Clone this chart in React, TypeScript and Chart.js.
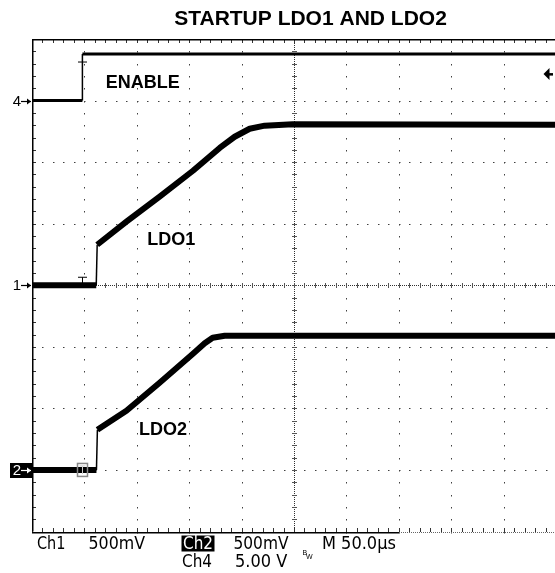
import React, { useEffect, useRef } from "react";
import { Chart, registerables } from "chart.js";

Chart.register(...registerables);

// ---------- scope settings ----------
const TITLE = "STARTUP LDO1 AND LDO2";
const X_DIVS = 10;
const Y_DIVS = 8;
const TIME_PER_DIV = 50; // µs
const TRIGGER_TIME = 48.1; // µs from left edge

// channel ground positions (divisions from bottom) and volts per division
const CH4_GROUND = 7;
const CH4_VDIV = 5;
const CH1_GROUND = 4;
const CH1_VDIV = 0.5;
const CH2_GROUND = 1;
const CH2_VDIV = 0.5;
const CH4_TRIGGER_LEVEL = 2.15; // V

// ---------- traces (time in µs, values in volts) ----------
const enableTime = [0, 48.1, 48.1, 500];
const enableVolts = [0, 0, 3.78, 3.78];

const ldo1Time = [0, 61.3, 62.2, 90.1, 121.8, 153.6, 179.1, 193.4, 207.7, 222.0, 248.8, 500];
const ldo1Volts = [0, 0, 0.329, 0.516, 0.719, 0.93, 1.115, 1.206, 1.271, 1.296, 1.308, 1.304];

const ldo2Time = [0, 61.5, 62.4, 90.1, 121.8, 153.6, 164.8, 172.4, 183.9, 500];
const ldo2Volts = [0, 0, 0.327, 0.481, 0.708, 0.944, 1.029, 1.074, 1.09, 1.09];

// ---------- annotations ----------
const traceLabels = ["ENABLE", "LDO1", "LDO2"];
const traceLabelTime = [105.6, 132.8, 125];
const traceLabelDiv = [7.29, 4.73, 1.652];

const readoutRow1 = ["Ch1", "500mV", "Ch2", "500mV", "M 50.0\u00b5s"];
const readoutRow2 = ["Ch4", "5.00 V"];

const toDiv = (v: number, ground: number, vdiv: number) => ground + v / vdiv;

const FONT = '"Liberation Sans", Arial, Helvetica, sans-serif';
const NARROW = '"Liberation Sans Narrow", "DejaVu Sans Condensed", "Liberation Sans", sans-serif';

const graticule = {
  id: "graticule",
  beforeDatasetsDraw(chart: any) {
    const { ctx, chartArea: a } = chart;
    const dw = (a.right - a.left) / X_DIVS;
    const dh = (a.bottom - a.top) / Y_DIVS;
    ctx.save();
    ctx.fillStyle = "#404040";
    // regular dotted grid lines
    for (let i = 1; i < X_DIVS; i++) {
      if (i === X_DIVS / 2) continue;
      const x = Math.round(a.left + i * dw);
      for (let k = 0; k <= Y_DIVS * 5; k++) {
        ctx.fillRect(x, Math.round(a.top + (k * dh) / 5), 1, 1.5);
      }
    }
    for (let j = 1; j < Y_DIVS; j++) {
      if (j === Y_DIVS / 2) continue;
      const y = Math.round(a.top + j * dh);
      for (let k = 0; k <= X_DIVS * 5; k++) {
        ctx.fillRect(Math.round(a.left + (k * dw) / 5), y, 1.5, 1);
      }
    }
    // centre cross
    const cx = Math.round(a.left + (X_DIVS / 2) * dw);
    const cy = Math.round(a.top + (Y_DIVS / 2) * dh);
    ctx.fillStyle = "#303030";
    for (let y = a.top; y < a.bottom; y += 2) ctx.fillRect(cx, Math.round(y), 1, 1);
    for (let x = a.left; x < a.right; x += 2) ctx.fillRect(Math.round(x), cy, 1, 1);
    ctx.fillStyle = "#555";
    for (let k = 0; k <= Y_DIVS * 5; k++) ctx.fillRect(cx - 2, Math.round(a.top + (k * dh) / 5), 5, 1);
    for (let k = 0; k <= X_DIVS * 5; k++) ctx.fillRect(Math.round(a.left + (k * dw) / 5), cy - 2, 1, 5);
    // border ticks
    ctx.fillStyle = "#333";
    for (let k = 0; k <= X_DIVS * 5; k++) {
      const x = Math.round(a.left + (k * dw) / 5);
      ctx.fillRect(x, Math.round(a.top), 1, 4);
      ctx.fillRect(x, Math.round(a.bottom) - 4, 1, 4);
    }
    for (let k = 0; k <= Y_DIVS * 5; k++) {
      const y = Math.round(a.top + (k * dh) / 5);
      ctx.fillRect(Math.round(a.left), y, 4, 1);
    }
    // frame
    ctx.fillStyle = "#000";
    ctx.fillRect(Math.round(a.left), Math.round(a.top), 1.5, a.bottom - a.top);
    ctx.fillRect(Math.round(a.left), Math.round(a.top), a.right - a.left, 1.5);
    const solidEnd = Math.round(a.left + 7 * dw);
    ctx.fillRect(Math.round(a.left), Math.round(a.bottom), solidEnd - Math.round(a.left), 1.5);
    ctx.fillStyle = "#666";
    for (let x = solidEnd; x < a.right; x += 2) ctx.fillRect(x, Math.round(a.bottom), 1, 1);
    ctx.restore();
  },
  afterDraw(chart: any) {
    const { ctx, chartArea: a } = chart;
    const xs = chart.scales.x;
    const ys = chart.scales.y;
    ctx.save();
    // title
    ctx.fillStyle = "#000";
    ctx.textAlign = "center";
    ctx.textBaseline = "middle";
    ctx.font = `bold 21px ${FONT}`;
    ctx.fillText(TITLE, 310.5, 19);
    // trace labels
    ctx.font = `bold 18px ${FONT}`;
    traceLabels.forEach((t, i) => {
      ctx.fillText(t, xs.getPixelForValue(traceLabelTime[i]), ys.getPixelForValue(traceLabelDiv[i]));
    });

    // ground markers on the left
    const marker = (div: number, label: string, inverted: boolean) => {
      const y = Math.round(ys.getPixelForValue(div)) + 0.5;
      const x1 = a.left - 1;
      const col = inverted ? "#fff" : "#000";
      if (inverted) {
        ctx.fillStyle = "#000";
        ctx.fillRect(10, y - 7.5, a.left - 10, 15);
      }
      ctx.fillStyle = col;
      ctx.strokeStyle = col;
      ctx.font = `15px ${FONT}`;
      ctx.textAlign = "right";
      ctx.textBaseline = "middle";
      ctx.fillText(label, x1 - 10, y + 0.5);
      ctx.lineWidth = 1.2;
      ctx.beginPath();
      ctx.moveTo(x1 - 10, y);
      ctx.lineTo(x1, y);
      ctx.stroke();
      ctx.beginPath();
      ctx.moveTo(x1, y);
      ctx.lineTo(x1 - 4, y - 3);
      ctx.lineTo(x1 - 4, y + 3);
      ctx.closePath();
      ctx.fill();
    };
    marker(CH4_GROUND, "4", false);
    marker(CH1_GROUND, "1", false);
    marker(CH2_GROUND, "2", true);

    // trigger level arrow (right)
    const ty = ys.getPixelForValue(toDiv(CH4_TRIGGER_LEVEL, CH4_GROUND, CH4_VDIV));
    ctx.fillStyle = "#000";
    ctx.beginPath();
    ctx.moveTo(543.5, ty);
    ctx.lineTo(549.5, ty - 6);
    ctx.lineTo(549.5, ty + 6);
    ctx.closePath();
    ctx.fill();
    ctx.fillRect(549, ty - 1, 4, 2.5);

    // trigger position "T" markers
    const tx = Math.round(xs.getPixelForValue(TRIGGER_TIME)) + 0.5;
    ctx.strokeStyle = "#000";
    ctx.lineWidth = 1;
    const tee = (top: number, bottom: number) => {
      ctx.beginPath();
      ctx.moveTo(tx - 4.5, top);
      ctx.lineTo(tx + 4.5, top);
      ctx.moveTo(tx, top);
      ctx.lineTo(tx, bottom);
      ctx.stroke();
    };
    const enHigh = ys.getPixelForValue(toDiv(enableVolts[3], CH4_GROUND, CH4_VDIV));
    tee(enHigh + 8, enHigh + 21);
    const g1 = ys.getPixelForValue(CH1_GROUND);
    tee(g1 - 8, g1);
    const g2 = ys.getPixelForValue(CH2_GROUND);
    ctx.strokeStyle = "#888";
    ctx.lineWidth = 1.5;
    ctx.strokeRect(tx - 5, g2 - 6.5, 10, 13);
    ctx.strokeStyle = "#ccc";
    ctx.lineWidth = 1;
    ctx.beginPath();
    ctx.moveTo(tx - 3, g2 - 4);
    ctx.lineTo(tx + 3, g2 - 4);
    ctx.moveTo(tx, g2 - 4);
    ctx.lineTo(tx, g2 + 4);
    ctx.stroke();

    // readout at the bottom
    ctx.textAlign = "left";
    ctx.textBaseline = "middle";
    ctx.font = `18px ${NARROW}`;
    const r1x = [37, 88.5, 183, 233.5, 322];
    const r1w = [28.5, 56.5, 30, 55, 76];
    ctx.fillStyle = "#000";
    ctx.fillRect(181.5, 535.5, 33, 16);
    readoutRow1.forEach((t, i) => {
      ctx.fillStyle = i === 2 ? "#fff" : "#000";
      ctx.fillText(t, r1x[i], 544, r1w[i]);
    });
    const r2x = [182, 235];
    const r2w = [30, 55];
    ctx.fillStyle = "#000";
    readoutRow2.forEach((t, i) => ctx.fillText(t, r2x[i], 562, r2w[i]));
    ctx.font = `7px ${FONT}`;
    ctx.fillText("B", 302.5, 553);
    ctx.fillText("W", 306, 557.5);
    ctx.restore();
  },
};

export default function App() {
  const ref = useRef<HTMLCanvasElement | null>(null);
  useEffect(() => {
    if (!ref.current) return;
    const thinOnJump = (w: number) => (c: any) =>
      Math.abs(c.p1.parsed.x - c.p0.parsed.x) < 1.5 ? 1.5 : w;
    const chart = new Chart(ref.current, {
      type: "line",
      data: {
        datasets: [
          {
            label: "ENABLE",
            data: enableTime.map((t, i) => ({ x: t, y: toDiv(enableVolts[i], CH4_GROUND, CH4_VDIV) })),
            borderColor: "#000",
            borderWidth: 3,
            pointRadius: 0,
            tension: 0,
            segment: { borderWidth: thinOnJump(3) },
          },
          {
            label: "LDO1",
            data: ldo1Time.map((t, i) => ({ x: t, y: toDiv(ldo1Volts[i], CH1_GROUND, CH1_VDIV) })),
            borderColor: "#000",
            borderWidth: 6,
            pointRadius: 0,
            tension: 0,
            borderJoinStyle: "round",
            segment: { borderWidth: thinOnJump(6) },
          },
          {
            label: "LDO2",
            data: ldo2Time.map((t, i) => ({ x: t, y: toDiv(ldo2Volts[i], CH2_GROUND, CH2_VDIV) })),
            borderColor: "#000",
            borderWidth: 6,
            pointRadius: 0,
            tension: 0,
            borderJoinStyle: "round",
            segment: { borderWidth: thinOnJump(6) },
          },
        ],
      },
      options: {
        animation: false,
        responsive: false,
        devicePixelRatio: 1,
        layout: { padding: { left: 32, top: 39, right: 14, bottom: 41.5 } },
        plugins: { legend: { display: false }, tooltip: { enabled: false }, title: { display: false } },
        scales: {
          x: { type: "linear", min: 0, max: X_DIVS * TIME_PER_DIV, display: false },
          y: { type: "linear", min: 0, max: Y_DIVS, display: false },
        },
      },
      plugins: [graticule],
    });
    return () => chart.destroy();
  }, []);
  return (
    <div
      style={{
        position: "absolute",
        left: 0,
        top: 0,
        width: 555,
        height: 573,
        overflow: "hidden",
        background: "#fff",
      }}
    >
      <canvas ref={ref} width={570} height={573} style={{ width: 570, height: 573, display: "block" }} />
    </div>
  );
}
